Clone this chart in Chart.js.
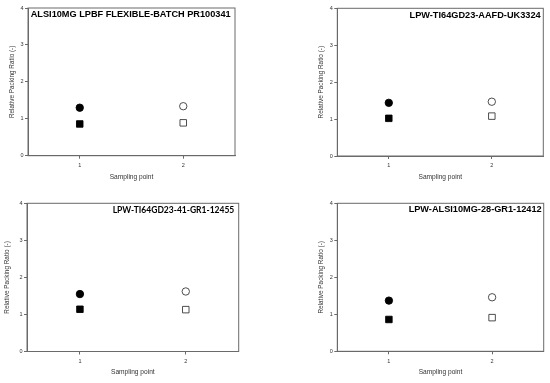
<!DOCTYPE html>
<html>
<head>
<meta charset="utf-8">
<script src="https://cdn.jsdelivr.net/npm/chart.js@4"></script>
<style>
  html, body { margin: 0; padding: 0; background: #fff; }
  #wrap { position: relative; width: 550px; height: 383px; overflow: hidden; }
  canvas { position: absolute; }
</style>
</head>
<body>
<div id="wrap">
  <canvas id="c1" width="275" height="190" style="left:0;top:0"></canvas>
  <canvas id="c2" width="275" height="190" style="left:275px;top:0"></canvas>
  <canvas id="c3" width="275" height="193" style="left:0;top:190px"></canvas>
  <canvas id="c4" width="275" height="193" style="left:275px;top:190px"></canvas>
</div>
<script>
// ---- data ----
const samplingPoints = [1, 2];
const yTickValues = [0, 1, 2, 3, 4];
const panelTitles = [
  "ALSI10MG LPBF FLEXIBLE-BATCH PR100341",
  "LPW-TI64GD23-AAFD-UK3324",
  "LPW-TI64GD23-41-GR1-12455",
  "LPW-ALSI10MG-28-GR1-12412"
];
// circle markers (upper series) and square markers (lower series)
const circles1 = [1.30, 1.34];
const squares1 = [0.86, 0.89];
const circles2 = [1.44, 1.47];
const squares2 = [1.02, 1.08];
const circles3 = [1.55, 1.62];
const squares3 = [1.14, 1.13];
const circles4 = [1.37, 1.46];
const squares4 = [0.86, 0.91];
const yAxisTitle = "Relative Packing Ratio (-)";
const xAxisTitle = "Sampling point";

// ---- layout / styles ----
const panels = [
  { id: "c1", title: panelTitles[0], circ: circles1, sq: squares1,
    pad: { left: 8, top: 8, right: 40, bottom: 9 }, yW: 20, xH: 25.3,
    tFont: 'bold 9.2px "Liberation Sans", Arial, sans-serif', tAlign: "left", tDx: 2.7, tDy: 6.3 },
  { id: "c2", title: panelTitles[1], circ: circles2, sq: squares2,
    pad: { left: 42.75, top: 8.3, right: 6.7, bottom: 9 }, yW: 19.55, xH: 25.0,
    tFont: 'bold 9.2px "Liberation Sans", Arial, sans-serif', tAlign: "right", tDx: 2.7, tDy: 6.7 },
  { id: "c3", title: panelTitles[2], circ: circles3, sq: squares3,
    pad: { left: 3.35, top: 13.3, right: 36.3, bottom: 6.4 }, yW: 23.65, xH: 25.1,
    tFont: 'bold 8.5px Lato, "Open Sans", sans-serif', tAlign: "right", tDx: 4.4, tDy: 7.4 },
  { id: "c4", title: panelTitles[3], circ: circles4, sq: squares4,
    pad: { left: 42.75, top: 13.3, right: 6.3, bottom: 6.4 }, yW: 19.55, xH: 25.3,
    tFont: 'bold 9.2px "Liberation Sans", Arial, sans-serif', tAlign: "right", tDx: 2.0, tDy: 5.7 }
];

const axisColor = "#6a6a6a";
const textFont = '"Liberation Sans", Arial, sans-serif';

const framePlugin = {
  id: "frameAndTitle",
  afterDraw(chart, args, opts) {
    const { ctx, chartArea: a } = chart;
    ctx.save();
    ctx.strokeStyle = axisColor;
    ctx.lineWidth = 1;
    ctx.strokeRect(a.left, a.top, a.right - a.left, a.bottom - a.top);
    ctx.fillStyle = "#000";
    ctx.font = opts.font;
    ctx.textBaseline = "middle";
    ctx.textAlign = opts.align;
    const x = opts.align === "left" ? a.left + opts.dx : a.right - opts.dx;
    ctx.fillText(opts.text, x, a.top + opts.dy);
    ctx.restore();
  }
};

panels.forEach(p => {
  const fills = ["#000000", "#ffffff"];
  const borders = ["#000000", "#3a3a3a"];
  new Chart(document.getElementById(p.id), {
    type: "scatter",
    data: {
      datasets: [
        {
          label: "circles",
          data: samplingPoints.map((x, i) => ({ x, y: p.circ[i] })),
          pointStyle: "circle",
          pointRadius: 3.7,
          pointHoverRadius: 3.7,
          pointBackgroundColor: fills,
          pointBorderColor: borders,
          pointBorderWidth: 0.9
        },
        {
          label: "squares",
          data: samplingPoints.map((x, i) => ({ x, y: p.sq[i] })),
          pointStyle: "rect",
          pointRadius: 4.6,
          pointHoverRadius: 4.6,
          pointBackgroundColor: fills,
          pointBorderColor: borders,
          pointBorderWidth: 0.9
        }
      ]
    },
    options: {
      responsive: false,
      animation: false,
      devicePixelRatio: 1,
      layout: { padding: p.pad },
      plugins: {
        legend: { display: false },
        tooltip: { enabled: false },
        frameAndTitle: { text: p.title, font: p.tFont, align: p.tAlign, dx: p.tDx, dy: p.tDy }
      },
      scales: {
        x: {
          type: "linear",
          min: 0.5, max: 2.5,
          afterBuildTicks: s => { s.ticks = samplingPoints.map(v => ({ value: v })); },
          afterFit: s => { s.height = p.xH; },
          grid: { drawOnChartArea: false, drawTicks: true, tickLength: 3, color: axisColor, lineWidth: 1 },
          border: { color: axisColor, width: 1 },
          ticks: { font: { family: textFont, size: 5.5 }, color: "#333", padding: 3.5, maxRotation: 0 },
          title: { display: true, text: xAxisTitle, font: { family: textFont, size: 6.6 }, color: "#333", padding: 0 }
        },
        y: {
          type: "linear",
          min: 0, max: 4,
          afterBuildTicks: s => { s.ticks = yTickValues.map(v => ({ value: v })); },
          afterFit: s => { s.width = p.yW; },
          grid: { drawOnChartArea: false, drawTicks: true, tickLength: 3, color: axisColor, lineWidth: 1 },
          border: { color: axisColor, width: 1 },
          ticks: { font: { family: textFont, size: 5.5 }, color: "#333", padding: 1.5 },
          title: { display: true, text: yAxisTitle, font: { family: textFont, size: 6.4 }, color: "#333", padding: 0 }
        }
      }
    },
    plugins: [framePlugin]
  });
});
</script>
</body>
</html>
